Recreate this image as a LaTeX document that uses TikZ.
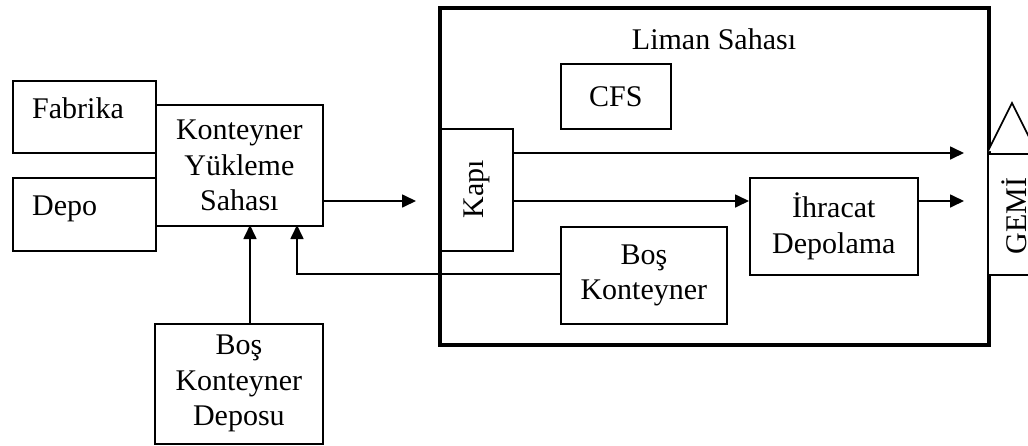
\documentclass[tikz,border=0pt]{standalone}
\usepackage{fontspec}
\setmainfont{Liberation Serif}
\usetikzlibrary{arrows.meta,calc}
\begin{document}
\begin{tikzpicture}[x=1pt,y=-1pt,
  box/.style={draw,line width=1.7pt,fill=white,inner sep=0pt},
  txt/.style={inner sep=0pt,font=\fontsize{30}{35.5}\selectfont,align=center},
  conn/.style={line width=1.7pt,-{Triangle[length=14pt,width=13pt]}},
  plain/.style={line width=1.7pt}]
\useasboundingbox (0,0) rectangle (1028,445);
% Liman Sahasi frame
\draw[line width=3.5pt] (440,8) rectangle (989,345);
\node[txt] (liman) at (714,39) {Liman Sahası};
% left boxes
\node[box,minimum width=143pt,minimum height=72pt,anchor=north west] (fab) at (12,80) {};
\node[txt,anchor=base west] (fabt) at (32,118) {Fabrika};
\node[box,minimum width=143pt,minimum height=73pt,anchor=north west] (depo) at (12,177) {};
\node[txt,anchor=base west] (depot) at (32,215) {Depo};
\node[box,minimum width=167pt,minimum height=121pt,anchor=north west,txt] (kys) at (155,104) {Konteyner\\Yükleme\\Sahası};
\node[box,minimum width=168pt,minimum height=120pt,anchor=north west,txt] (bkd) at (154,323) {Boş\\Konteyner\\Deposu};
% inner boxes
\node[box,minimum width=110pt,minimum height=65pt,anchor=north west,txt] (cfs) at (560,63) {CFS};
\node[box,minimum width=72pt,minimum height=122pt,anchor=north west] (kapi) at (440,128) {};
\node[txt,rotate=90] (kapit) at (477,189) {Kapı};
\node[box,minimum width=168pt,minimum height=97pt,anchor=north west,txt] (ihr) at (749,177) {İhracat\\Depolama};
\node[box,minimum width=166pt,minimum height=97pt,anchor=north west,txt] (bk) at (560,226) {Boş\\Konteyner};
% ship
\draw[plain,fill=white] (988,151) -- (1012,103) -- (1036,151);
\node[box,minimum width=70pt,minimum height=121pt,anchor=north west] (gemi) at (987,153) {};
\node[txt,rotate=90] (gemit) at (1014,216) {GEMİ};
% coordinates
\coordinate (a1) at (416,201);
\coordinate (g1) at (964,153);
\coordinate (g2) at (964,201);
% connectors
\draw[conn] (kys.east |- a1) -- (a1);
\draw[conn] (kapi.east |- g1) -- (g1);
\draw[conn] (kapi.east |- g2) -- (ihr.west |- g2);
\draw[conn] (ihr.east |- g2) -- (g2);
\draw[conn] (bkd.north -| 250,0) -- (250,225);
\draw[conn] (bk.west |- 0,274) -- (297,274) -- (297,225);
\end{tikzpicture}
\end{document}
